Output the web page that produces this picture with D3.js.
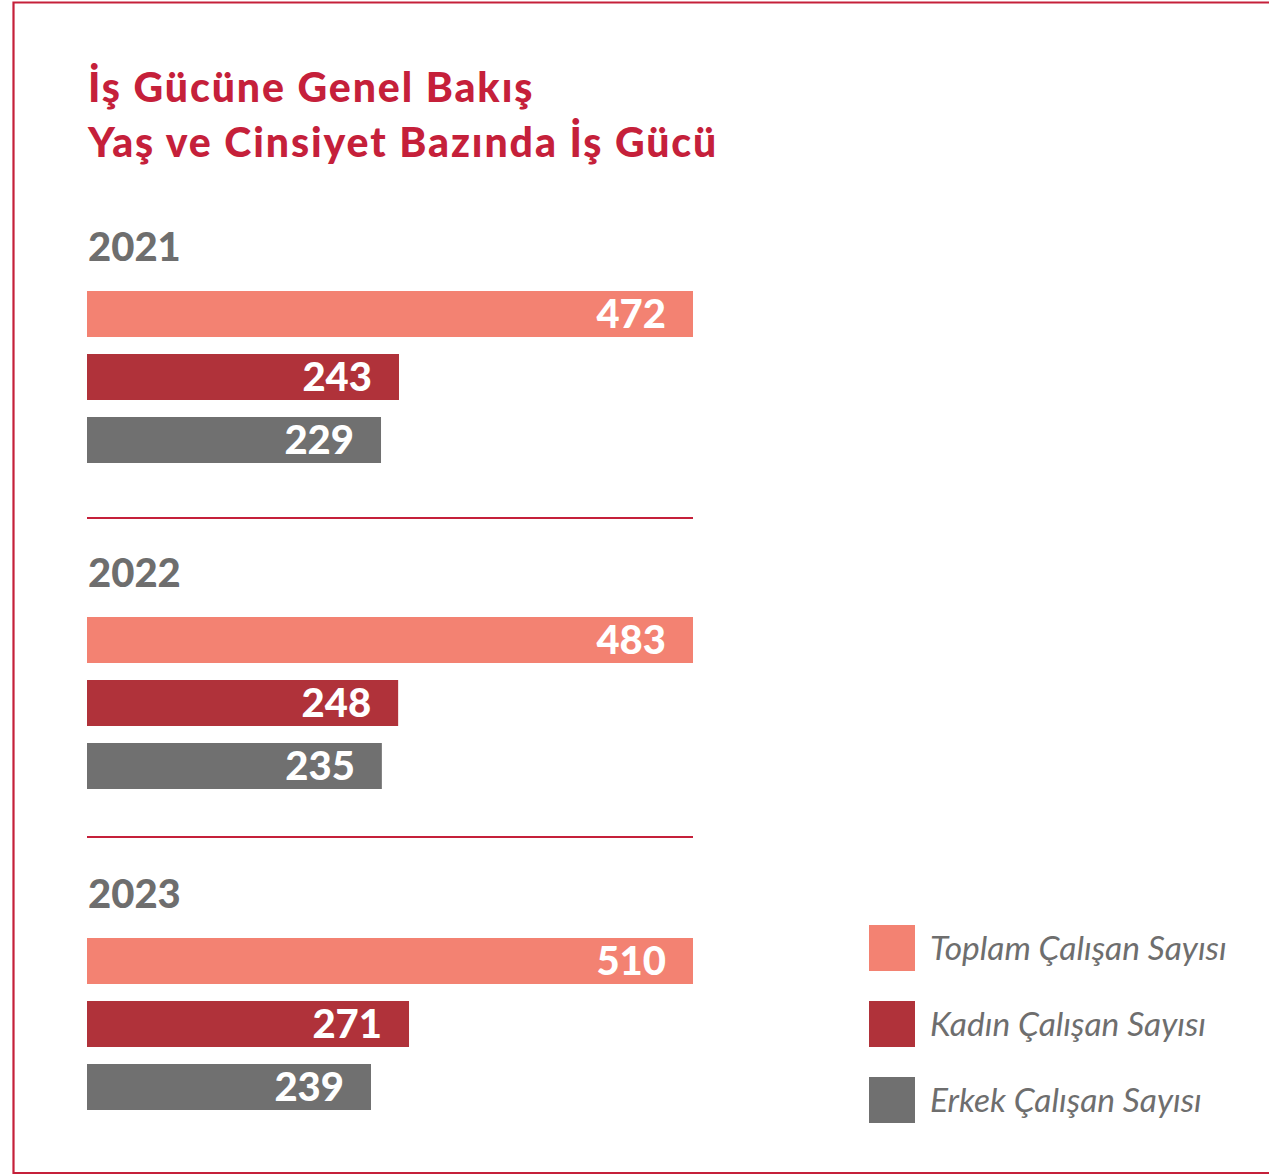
<!DOCTYPE html>
<html>
<head>
<meta charset="utf-8">
<script src="https://cdn.jsdelivr.net/npm/d3@7"></script>
<style>
  html, body { margin: 0; padding: 0; background: #ffffff; }
  svg { display: block; }
</style>
</head>
<body>
<div id="chart"></div>
<script>
// Workforce by year and gender
const years = ["2021", "2022", "2023"];
const series = ["Toplam Çalışan Sayısı", "Kadın Çalışan Sayısı", "Erkek Çalışan Sayısı"];
const totalValues = [472, 483, 510];
const womenValues = [243, 248, 271];
const menValues = [229, 235, 239];
const titleLines = ["İş Gücüne Genel Bakış", "Yaş ve Cinsiyet Bazında İş Gücü"];

const colors = ["#f38272", "#b0323a", "#707070"];
const red = "#c5203a";
const gray = "#6e6e6e";

const W = 1269, H = 1175;
const svg = d3.select("#chart").append("svg")
  .attr("width", W).attr("height", H);

// frame
svg.append("path")
  .attr("d", `M${W + 5},2.5 H13.5 V1173 H${W + 5}`)
  .attr("fill", "none").attr("stroke", red).attr("stroke-width", 2.2);

// title
const title = svg.append("g")
  .attr("font-family", "Lato, sans-serif")
  .attr("font-weight", 900)
  .attr("font-size", 41)
  .attr("letter-spacing", 1.9)
  .attr("fill", red);
titleLines.forEach((t, i) => {
  title.append("text").attr("x", 88).attr("y", 102 + i * 55).text(t);
});

// one group per year
const groupTop = d3.scaleOrdinal().domain(years).range([291, 617, 938]);
const separatorY = [518, 837];
const rows = d3.scaleBand().domain(d3.range(3)).range([0, 172]).paddingInner(0.27).paddingOuter(0);

years.forEach((yr, i) => {
  const vals = [totalValues[i], womenValues[i], menValues[i]];
  // the total spans the full row width; the parts are drawn on the same scale
  const x = d3.scaleLinear().domain([0, totalValues[i]]).range([87, 693]);
  const top = groupTop(yr);
  const g = svg.append("g");

  g.append("text")
    .attr("x", 88).attr("y", top - 30)
    .attr("font-family", "Lato, sans-serif").attr("font-weight", 900)
    .attr("font-size", 40).attr("fill", gray)
    .text(yr);

  g.selectAll("rect").data(vals).join("rect")
    .attr("x", x(0))
    .attr("y", (d, j) => top + rows(j))
    .attr("width", d => x(d) - x(0))
    .attr("height", rows.bandwidth())
    .attr("fill", (d, j) => colors[j]);

  g.selectAll("text.val").data(vals).join("text")
    .attr("class", "val")
    .attr("x", d => x(d) - 27)
    .attr("y", (d, j) => top + rows(j) + rows.bandwidth() / 2)
    .attr("dy", "0.36em")
    .attr("text-anchor", "end")
    .attr("font-family", "Lato, sans-serif").attr("font-weight", 900)
    .attr("font-size", 40).attr("fill", "#ffffff")
    .text(d => d);

  if (i < separatorY.length) {
    g.append("line")
      .attr("x1", 87).attr("x2", 693)
      .attr("y1", separatorY[i]).attr("y2", separatorY[i])
      .attr("stroke", red).attr("stroke-width", 2);
  }
});

// legend
const legendY = d3.scalePoint().domain(series).range([925, 1077]);
const leg = svg.append("g");
series.forEach((s, j) => {
  leg.append("rect")
    .attr("x", 869).attr("y", legendY(s))
    .attr("width", 46).attr("height", 46)
    .attr("fill", colors[j]);
  leg.append("text")
    .attr("x", 930).attr("y", legendY(s) + 23)
    .attr("dy", "0.36em")
    .attr("font-family", "Lato, sans-serif").attr("font-style", "italic")
    .attr("font-size", 33.5).attr("fill", gray)
    .text(s);
});
</script>
</body>
</html>
